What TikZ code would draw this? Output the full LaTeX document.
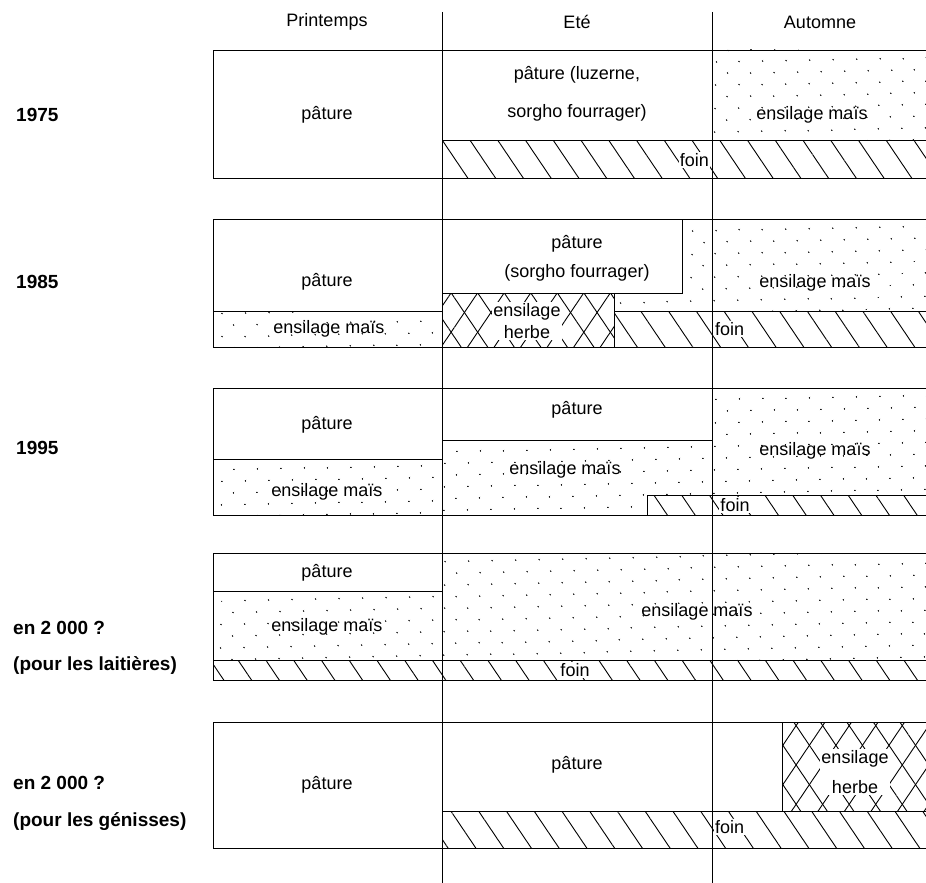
\documentclass[tikz,border=0pt]{standalone}
\usepackage{fontspec}
\setmainfont{Liberation Sans}
\usetikzlibrary{patterns.meta}
\tikzset{
  txt/.style={font=\fontsize{18}{20}\selectfont, inner sep=1pt},
  yearlbl/.style={font=\fontsize{19}{21}\selectfont\bfseries, anchor=west, inner sep=0pt},
  onwhite/.style={txt, fill=white},
  frame/.style={line width=0.9pt},
  mais/.style={pattern={Dots[radius=0.9pt, distance=17pt, angle=45]}},
  foin/.style={pattern={Lines[angle=-56, distance=23pt, line width=0.9pt]}},
  herbe/.style={preaction={pattern={Lines[angle=56, distance=22pt, line width=0.9pt]}},
                pattern={Lines[angle=-56, distance=22pt, line width=0.9pt]}},
}

\begin{document}
\begin{tikzpicture}[x=1pt, y=-1pt]
  \useasboundingbox (0,0) rectangle (926,883);

  % season headings
  \node[txt] (spring) at (327,22) {Printemps};
  \node[txt] (summer) at (577,22) {Eté};
  \node[txt] (autumn) at (820,22) {Automne};

  % 1975
  \path[mais] (712,50) rectangle (926,140);
  \path[foin] (442,140) rectangle (926,178);
  \draw[frame] (926,50) -- (213,50) -- (213,178) -- (926,178);
  \draw[frame] (442,140) -- (926,140);
  \node[yearlbl] (y75) at (16,115) {1975};
  \node[txt] (p75a) at (327,115) {pâture};
  \node[txt] (p75b) at (577,75) {pâture (luzerne,};
  \node[txt] (p75c) at (577,113) {sorgho fourrager)};
  \node[txt] (m75) at (812,115) {ensilage maïs};
  \node[onwhite, anchor=east] (f75) at (710,160) {foin};

  % 1985
  \path[mais] (682,219) -- (926,219) -- (926,311) -- (614,311) -- (614,293) -- (682,293) -- cycle;
  \path[mais] (213,311) rectangle (442,347);
  \path[herbe] (442,293) rectangle (614,347);
  \path[foin] (614,311) rectangle (926,347);
  \draw[frame] (926,219) -- (213,219) -- (213,347) -- (926,347);
  \draw[frame] (213,311) -- (442,311);
  \draw[frame] (442,293) -- (682,293) -- (682,219);
  \draw[frame] (614,293) -- (614,347);
  \draw[frame] (614,311) -- (926,311);
  \node[yearlbl] (y85) at (16,282) {1985};
  \node[txt] (p85a) at (327,282) {pâture};
  \node[txt] (p85b) at (577,244) {pâture};
  \node[txt] (p85c) at (577,273) {(sorgho fourrager)};
  \node[txt] (m85a) at (329,329) {ensilage maïs};
  \node[onwhite, align=center, font=\fontsize{18}{22}\selectfont] (h85) at (527,321) {ensilage\\herbe};
  \node[txt] (m85b) at (815,283) {ensilage maïs};
  \node[onwhite, anchor=west] (f85) at (714,329) {foin};

  % 1995
  \path[mais] (213,459) rectangle (442,515);
  \path[mais] (442,440) -- (712,440) -- (712,388) -- (926,388) -- (926,495) -- (647,495) -- (647,515) -- (442,515) -- cycle;
  \path[foin] (647,495) rectangle (926,515);
  \draw[frame] (926,388) -- (213,388) -- (213,515) -- (926,515);
  \draw[frame] (213,459) -- (442,459);
  \draw[frame] (442,440) -- (712,440);
  \draw[frame] (647,515) -- (647,495) -- (926,495);
  \node[yearlbl] (y95) at (16,448) {1995};
  \node[txt] (p95a) at (327,425) {pâture};
  \node[txt] (p95b) at (577,410) {pâture};
  \node[txt] (m95a) at (327,492) {ensilage maïs};
  \node[txt] (m95b) at (565,470) {ensilage maïs};
  \node[txt] (m95c) at (815,451) {ensilage maïs};
  \node[onwhite] (f95) at (735,505) {foin};

  % 2000, laitieres
  \path[mais] (213,591) -- (442,591) -- (442,553) -- (926,553) -- (926,660) -- (213,660) -- cycle;
  \path[foin] (213,660) rectangle (926,680);
  \draw[frame] (926,553) -- (213,553) -- (213,680) -- (926,680);
  \draw[frame] (213,591) -- (442,591);
  \draw[frame] (213,660) -- (926,660);
  \node[yearlbl] (y00a) at (13,628) {en 2 000 ?};
  \node[yearlbl] (c00a) at (13,665) {(pour les laitières)};
  \node[txt] (p00a) at (327,573) {pâture};
  \node[txt] (m00a) at (327,627) {ensilage maïs};
  \node[txt] (m00b) at (697,612) {ensilage maïs};
  \node[onwhite] (f00a) at (575,670) {foin};

  % 2000, genisses
  \path[herbe] (782,722) rectangle (926,811);
  \path[foin] (442,811) rectangle (926,848);
  \draw[frame] (926,722) -- (213,722) -- (213,848) -- (926,848);
  \draw[frame] (442,811) -- (926,811);
  \draw[frame] (782,722) -- (782,811);
  \node[yearlbl] (y00b) at (13,783) {en 2 000 ?};
  \node[yearlbl] (c00b) at (13,822) {(pour les génisses)};
  \node[txt] (p00b) at (327,785) {pâture};
  \node[txt] (p00c) at (577,765) {pâture};
  \node[onwhite, align=center, font=\fontsize{18}{30}\selectfont] (h00) at (855,772) {ensilage\\herbe};
  \node[onwhite, anchor=west] (f00b) at (714,827) {foin};

  % season dividers
  \draw[frame] (442,12) -- (442,883);
  \draw[frame] (712,12) -- (712,883);
\end{tikzpicture}
\end{document}
